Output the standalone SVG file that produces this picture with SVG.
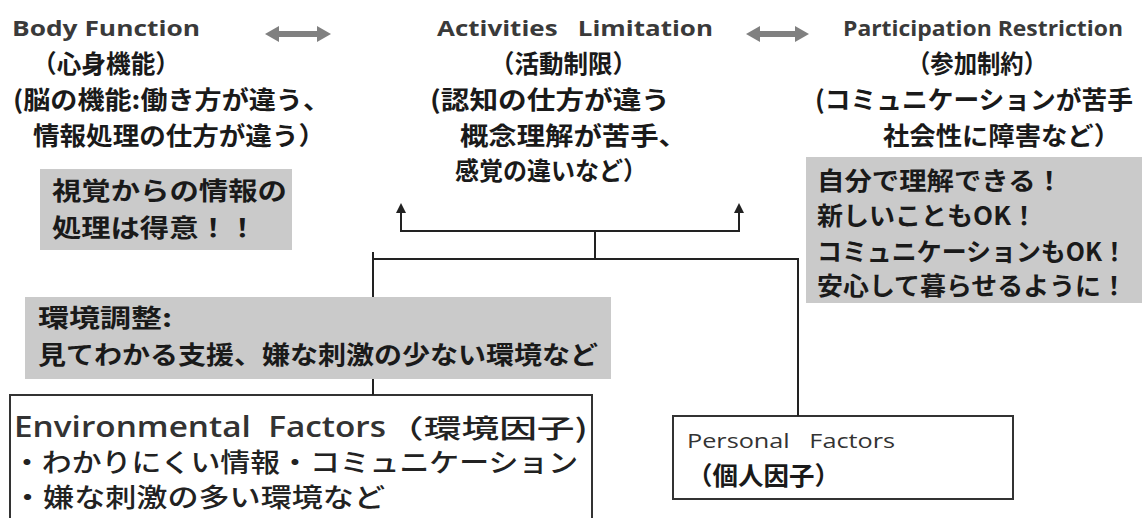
<svg xmlns="http://www.w3.org/2000/svg" width="1142" height="518" viewBox="0 0 1142 518">
<style>
.title{font-family:"Open Sans","Noto Sans",sans-serif;font-weight:700;font-size:21px;fill:#3a3a3a}
.jp{font-family:"Noto Sans CJK JP",sans-serif;font-weight:700;font-size:25px;fill:#1a1a1a}
.jpr{font-family:"Noto Sans CJK JP",sans-serif;font-weight:500;font-size:26px;fill:#222}
.en{font-family:"Open Sans","Noto Sans",sans-serif;font-weight:600;font-size:29px;fill:#333}
.pf{font-family:"Open Sans","Noto Sans",sans-serif;font-size:20px;fill:#333}
.gray{fill:#cacaca}
.box{fill:#fff;stroke:#333;stroke-width:2}
.ln{fill:none;stroke:#222;stroke-width:2}
.dbl{fill:#808080}
.ah{fill:#222}
</style>
<rect width="1142" height="518" fill="#fff"/>

<g id="body-function">
<text class="title" x="12" y="36" textLength="188" lengthAdjust="spacingAndGlyphs">Body Function</text>
<text class="jp" x="32" y="73" textLength="148" lengthAdjust="spacingAndGlyphs">（心身機能）</text>
<text class="jp" x="13" y="109" textLength="317" lengthAdjust="spacingAndGlyphs">(脳の機能:働き方が違う、</text>
<text class="jp" x="33" y="145" textLength="292" lengthAdjust="spacingAndGlyphs">情報処理の仕方が違う）</text>
</g>

<g id="activities-limitation">
<text class="title" x="437" y="36" textLength="276" lengthAdjust="spacingAndGlyphs">Activities&#160;&#160; Limitation</text>
<text class="jp" x="490" y="73" textLength="147" lengthAdjust="spacingAndGlyphs">（活動制限）</text>
<text class="jp" x="430" y="109" textLength="240" lengthAdjust="spacingAndGlyphs">(認知の仕方が違う</text>
<text class="jp" x="460" y="145" textLength="227" lengthAdjust="spacingAndGlyphs">概念理解が苦手、</text>
<text class="jp" x="455" y="180" textLength="192" lengthAdjust="spacingAndGlyphs">感覚の違いなど）</text>
</g>

<g id="participation-restriction">
<text class="title" x="843" y="36" textLength="280" lengthAdjust="spacingAndGlyphs">Participation Restriction</text>
<text class="jp" x="907" y="73" textLength="140" lengthAdjust="spacingAndGlyphs">（参加制約）</text>
<text class="jp" x="815" y="109" textLength="318" lengthAdjust="spacingAndGlyphs">(コミュニケーションが苦手</text>
<text class="jp" x="883" y="145" textLength="237" lengthAdjust="spacingAndGlyphs">社会性に障害など）</text>
</g>

<g id="note-visual">
<rect class="gray" x="40" y="169" width="252" height="81"/>
<text class="jp" x="52" y="200" textLength="235" lengthAdjust="spacingAndGlyphs">視覚からの情報の</text>
<text class="jp" x="52" y="237" textLength="205" lengthAdjust="spacingAndGlyphs">処理は得意！！</text>
</g>

<g id="note-outcome">
<rect class="gray" x="806" y="157" width="336" height="146"/>
<text class="jp" x="817" y="190" textLength="246" lengthAdjust="spacingAndGlyphs">自分で理解できる！</text>
<text class="jp" x="817" y="225" textLength="220" lengthAdjust="spacingAndGlyphs">新しいこともOK！</text>
<text class="jp" x="817" y="261" textLength="310" lengthAdjust="spacingAndGlyphs">コミュニケーションもOK！</text>
<text class="jp" x="817" y="295" textLength="310" lengthAdjust="spacingAndGlyphs">安心して暮らせるように！</text>
</g>

<g id="note-adjustment">
<rect class="gray" x="25" y="297" width="586" height="82"/>
<text class="jp" x="38" y="327" textLength="134" lengthAdjust="spacingAndGlyphs">環境調整:</text>
<text class="jp" x="38" y="364" textLength="560" lengthAdjust="spacingAndGlyphs">見てわかる支援、嫌な刺激の少ない環境など</text>
</g>

<g id="environmental-factors">
<rect class="box" x="10" y="395" width="582" height="140"/>
<text class="en" x="14" y="437" textLength="372" lengthAdjust="spacingAndGlyphs">Environmental&#160; Factors</text>
<text class="jpr" x="386" y="438" textLength="202" lengthAdjust="spacingAndGlyphs">（環境因子)</text>
<text class="jpr" x="12" y="472" textLength="566" lengthAdjust="spacingAndGlyphs">・わかりにくい情報・コミュニケーション</text>
<text class="jpr" x="12" y="507" textLength="373" lengthAdjust="spacingAndGlyphs">・嫌な刺激の多い環境など</text>
</g>

<g id="personal-factors">
<rect class="box" x="673" y="416" width="340" height="83"/>
<text class="pf" x="687" y="448" textLength="208" lengthAdjust="spacingAndGlyphs">Personal&#160;&#160; Factors</text>
<text class="jp" x="687" y="485" textLength="153" lengthAdjust="spacingAndGlyphs">（個人因子）</text>
</g>

<g id="connectors">
<polygon class="dbl" points="265,34 279,26 279,31 317,31 317,26 331,34 317,42 317,37 279,37 279,42"/>
<polygon class="dbl" points="746,34 760,26 760,31 795,31 795,26 809,34 795,42 795,37 760,37 760,42"/>
<path class="ln" d="M401,232 V212"/>
<polygon class="ah" points="401,203 396,213 406,213"/>
<path class="ln" d="M739,232 V212"/>
<polygon class="ah" points="739,203 734,213 744,213"/>
<path class="ln" d="M400,231 H740"/>
<path class="ln" d="M595,231 V259"/>
<path class="ln" d="M373,259 H798 V416"/>
<path class="ln" d="M373,252 V297"/>
<path class="ln" d="M373,379 V395"/>
</g>
</svg>
